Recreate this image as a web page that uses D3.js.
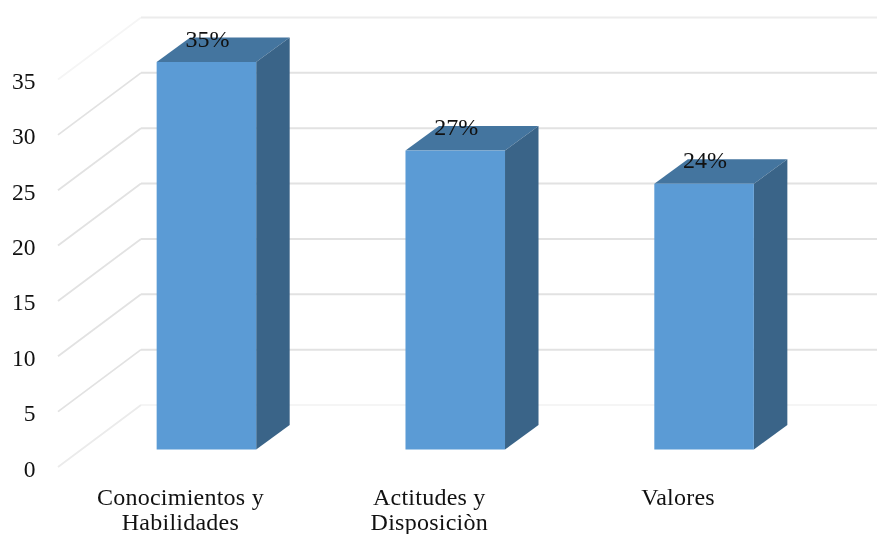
<!DOCTYPE html>
<html>
<head>
<meta charset="utf-8">
<script src="https://cdn.jsdelivr.net/npm/d3@7"></script>
<style>
html,body{margin:0;padding:0;background:#fff}
svg{display:block;filter:blur(0.45px)}
text{font-family:"Liberation Serif",serif;fill:#111}
</style>
</head>
<body>
<svg id="c" width="877" height="534"></svg>
<script>
const categories = ["Conocimientos y|Habilidades", "Actitudes y|Disposiciòn", "Valores"];
const values = [35, 27, 24];
const valueLabels = ["35%", "27%", "24%"];
const yTicks = [0, 5, 10, 15, 20, 25, 30, 35];

const svg = d3.select("#c");
const y = d3.scaleLinear().domain([0, 35]).range([449.5, 62]);
const x = d3.scaleBand().domain(categories).range([82, 828.5]).paddingInner(0.6).paddingOuter(0.3);
const backDy = -44.5;
const frontDy = 17.5;
const sideDx = 33.5, sideDy = -24.5;
const wallLeft = 141, wallFrontLeft = 58;

const gridY = v => y(v) + backDy;
const axisY = v => y(v) + frontDy;
const gridColor = v => v === 0 ? "#f5f5f5" : v === 35 ? "#ececec" : "#e2e2e2";
const diagColor = v => v === 35 ? "#f5f5f5" : v === 0 ? "#ebebeb" : "#e2e2e2";

const grid = svg.append("g");
grid.selectAll("line.back").data(yTicks).join("line").attr("class", "back")
  .attr("x1", wallLeft).attr("x2", 877)
  .attr("y1", gridY).attr("y2", gridY)
  .attr("stroke", gridColor).attr("stroke-width", 2);
grid.selectAll("line.diag").data(yTicks).join("line").attr("class", "diag")
  .attr("x1", wallFrontLeft).attr("x2", wallLeft)
  .attr("y1", axisY).attr("y2", gridY)
  .attr("stroke", diagColor).attr("stroke-width", 1.8);

const yAxisScale = d3.scaleLinear().domain(y.domain()).range(y.range().map(r => r + frontDy));
const yAxis = svg.append("g").attr("transform", "translate(35.5,1.5)")
  .call(d3.axisLeft(yAxisScale).tickValues(yTicks).tickSize(0).tickPadding(0));
yAxis.select(".domain").remove();
yAxis.selectAll("text").attr("font-size", 23.5).attr("font-family", "Liberation Serif").attr("fill", "#111");

const bars = svg.append("g").selectAll("g").data(categories).join("g");
const bw = x.bandwidth();
bars.append("polygon").attr("fill", "#44759F")
  .attr("points", (c, i) => {
    const l = x(c), t = y(values[i]);
    return [[l, t], [l + sideDx, t + sideDy], [l + bw + sideDx, t + sideDy], [l + bw, t]].join(" ");
  });
bars.append("polygon").attr("fill", "#3A6488")
  .attr("points", (c, i) => {
    const r = x(c) + bw, t = y(values[i]), b = y(0);
    return [[r, t], [r + sideDx, t + sideDy], [r + sideDx, b + sideDy], [r, b]].join(" ");
  });
bars.append("rect").attr("fill", "#5B9BD5")
  .attr("x", c => x(c)).attr("width", bw)
  .attr("y", (c, i) => y(values[i])).attr("height", (c, i) => y(0) - y(values[i]));

bars.append("text").attr("text-anchor", "middle").attr("font-size", 24)
  .attr("x", c => x(c) + bw / 2 + 1)
  .attr("y", (c, i) => y(values[i]) - 15.5)
  .text((c, i) => valueLabels[i]);

const catLabels = svg.append("g").selectAll("text").data(categories).join("text")
  .attr("text-anchor", "middle").attr("font-size", 24).attr("letter-spacing", 0.25)
  .attr("transform", c => `translate(${x(c) + bw / 2 - 26},505)`);
catLabels.selectAll("tspan").data(c => c.split("|")).join("tspan")
  .attr("x", 0).attr("dy", (d, i) => i ? 25 : 0).text(d => d);
</script>
</body>
</html>
